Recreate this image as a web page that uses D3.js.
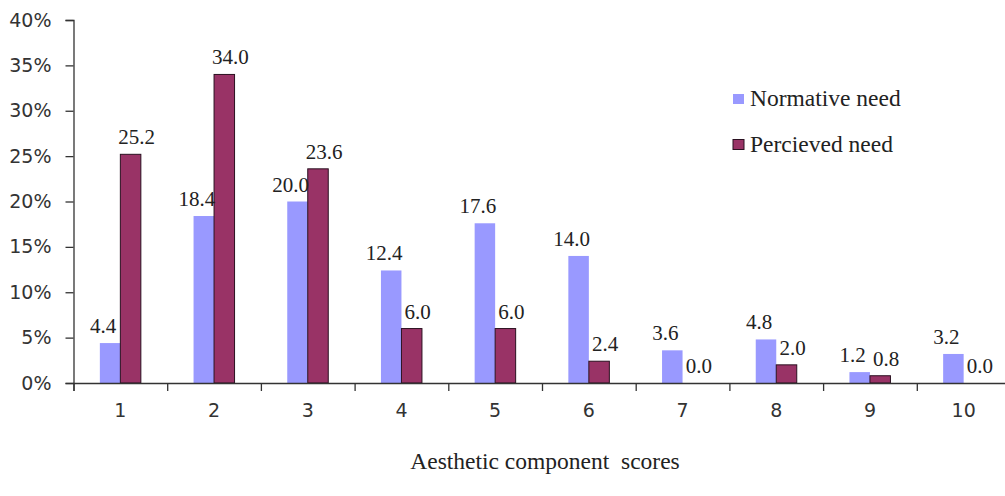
<!DOCTYPE html>
<html>
<head>
<meta charset="utf-8">
<script src="https://cdn.jsdelivr.net/npm/d3@7"></script>
<style>
  html, body { margin: 0; padding: 0; background: #fff; }
  svg { display: block; }
</style>
</head>
<body>
<svg id="chart" width="1005" height="496"></svg>
<script>
const categories = ["1","2","3","4","5","6","7","8","9","10"];
const seriesNames = ["Normative need", "Percieved need"];
const normative = [4.4, 18.4, 20.0, 12.4, 17.6, 14.0, 3.6, 4.8, 1.2, 3.2];
const perceived = [25.2, 34.0, 23.6, 6.0, 6.0, 2.4, 0.0, 2.0, 0.8, 0.0];
const yTicks = [0, 5, 10, 15, 20, 25, 30, 35, 40];
const xTitle = "Aesthetic component  scores";
const colors = ["#9999FF", "#993366"];

(function () {
const svg = d3.select("#chart");
const mLeft = 73.5, mRight = 1010.5, mTop = 20, mBottom = 383;

const x = d3.scaleBand().domain(categories).range([mLeft, mRight]).padding(0);
const xb = d3.scaleLinear().domain([0, categories.length]).range([mLeft, mRight]);
const y = d3.scaleLinear().domain([0, 40]).range([mBottom, mTop]);
const barW = 20.5;
const x1 = d3.scaleBand().domain(seriesNames)
  .range([x.bandwidth() / 2 - barW, x.bandwidth() / 2 + barW]).padding(0);

const data = [normative, perceived];

// Bars
seriesNames.forEach((s, si) => {
  svg.append("g").selectAll("rect")
    .data(categories.map((c, i) => ({c, v: data[si][i]})))
    .join("rect")
    .attr("x", d => x(d.c) + x1(s))
    .attr("y", d => y(d.v))
    .attr("width", x1.bandwidth())
    .attr("height", d => y(0) - y(d.v))
    .attr("fill", colors[si])
    .attr("stroke", si === 1 ? "#2a1020" : "none")
    .attr("stroke-width", si === 1 ? 1 : 0);
});

// Y axis
const yAxis = svg.append("g")
  .attr("transform", `translate(${mLeft},0)`)
  .call(d3.axisLeft(y).tickValues(yTicks).tickFormat(d => d + "%").tickSize(8).tickPadding(14));
yAxis.selectAll("path, line").attr("stroke", "#333").attr("stroke-width", 1.3);
yAxis.selectAll("text").attr("font-family", "DejaVu Sans, Verdana, sans-serif")
  .attr("font-size", 19).attr("fill", "#333");

// X axis boundary ticks
const xAxis = svg.append("g")
  .attr("transform", `translate(0,${mBottom})`)
  .call(d3.axisBottom(xb).tickValues(d3.range(0, categories.length + 1)).tickFormat("").tickSize(8));
xAxis.selectAll("path, line").attr("stroke", "#333").attr("stroke-width", 1.3);

// X labels
const xLab = svg.append("g")
  .attr("transform", `translate(0,${mBottom})`)
  .call(d3.axisBottom(x).tickSize(0).tickPadding(21));
xLab.select(".domain").remove();
xLab.selectAll("text").attr("font-family", "DejaVu Sans, Verdana, sans-serif")
  .attr("font-size", 19).attr("fill", "#333");

// Value labels
seriesNames.forEach((s, si) => {
  svg.append("g").selectAll("text")
    .data(categories.map((c, i) => ({c, v: data[si][i]})))
    .join("text")
    .attr("x", d => x(d.c) + x1(s) + x1.bandwidth() / 2 + (si === 0 ? -7 : 6))
    .attr("y", d => y(d.v) - 10)
    .attr("text-anchor", "middle")
    .attr("font-family", "Liberation Serif, Times New Roman, serif")
    .attr("font-size", 21)
    .attr("fill", "#222")
    .text(d => d3.format(".1f")(d.v));
});

// Legend
const legend = svg.append("g").attr("transform", "translate(733,94)");
seriesNames.forEach((s, si) => {
  const g = legend.append("g").attr("transform", `translate(0,${si * 45.5})`);
  g.append("rect").attr("width", 11).attr("height", 10)
    .attr("fill", colors[si])
    .attr("stroke", si === 1 ? "#2a1020" : "none");
  g.append("text").attr("x", 17).attr("y", 12)
    .attr("font-family", "Liberation Serif, Times New Roman, serif")
    .attr("font-size", 23.5).attr("fill", "#222")
    .text(s);
});

// X title
svg.append("text")
  .attr("x", 545).attr("y", 469)
  .attr("text-anchor", "middle")
  .attr("font-family", "Liberation Serif, Times New Roman, serif")
  .attr("font-size", 23.5).attr("fill", "#222")
  .style("white-space", "pre")
  .text(xTitle);
})();
</script>
</body>
</html>
